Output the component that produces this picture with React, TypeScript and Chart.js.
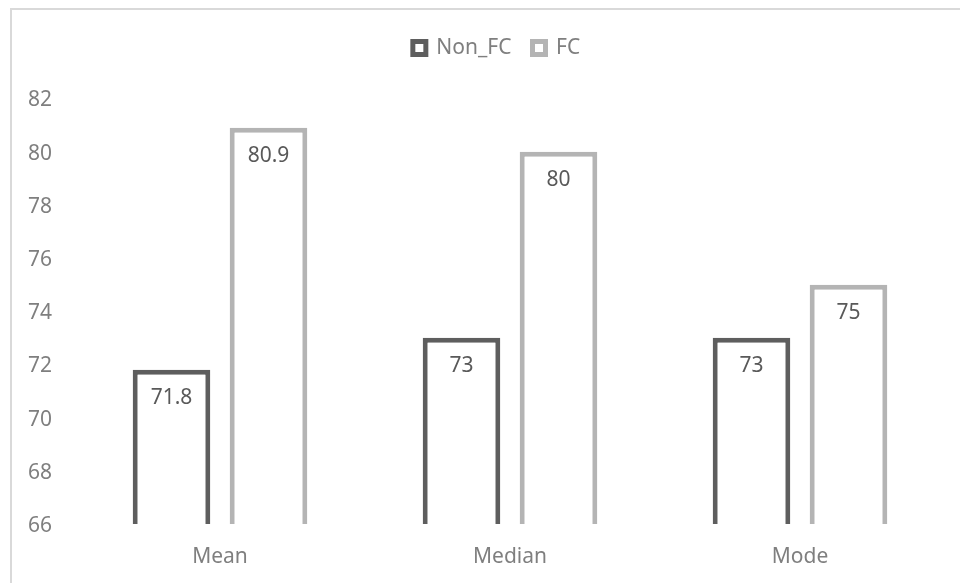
import React, { useEffect, useRef } from "react";
import { Chart, registerables } from "chart.js";

Chart.register(...registerables);

const categories = ["Mean", "Median", "Mode"];
const nonFcValues = [71.8, 73, 73];
const fcValues = [80.9, 80, 75];
const seriesNames = ["Non_FC", "FC"];
const yMin = 66;
const yMax = 82;
const yStep = 2;

const FONT = "'Noto Sans', 'DejaVu Sans', sans-serif";
const DARK = "#5e5e5e";
const LIGHT = "#b4b4b4";

const dataLabelPlugin = {
  id: "dataLabels",
  afterDatasetsDraw(chart: any) {
    const ctx = chart.ctx;
    ctx.save();
    ctx.font = `21px ${FONT}`;
    ctx.fillStyle = "#595959";
    ctx.textAlign = "center";
    ctx.textBaseline = "middle";
    chart.data.datasets.forEach((ds: any, i: number) => {
      const meta = chart.getDatasetMeta(i);
      meta.data.forEach((bar: any, j: number) => {
        const v = ds.data[j];
        ctx.fillText(String(v), bar.x, bar.y + 28);
      });
    });
    ctx.restore();
  },
};

// The original chart frame is wider than the visible crop, so its legend is
// centred a little right of the canvas centre.
const legendShiftPlugin = {
  id: "legendShift",
  afterLayout(chart: any) {
    if (chart.legend) {
      chart.legend.left += 48;
    }
  },
};

export default function App() {
  const ref = useRef<HTMLCanvasElement | null>(null);
  useEffect(() => {
    if (!ref.current) return;
    Chart.defaults.font.family = FONT;
    const chart = new Chart(ref.current, {
      type: "bar",
      data: {
        labels: categories,
        datasets: [
          {
            label: seriesNames[0],
            data: nonFcValues,
            backgroundColor: "#ffffff",
            borderColor: DARK,
            borderWidth: 5,
            borderSkipped: false,
            categoryPercentage: 0.669,
            barPercentage: 0.8,
          },
          {
            label: seriesNames[1],
            data: fcValues,
            backgroundColor: "#ffffff",
            borderColor: LIGHT,
            borderWidth: 5,
            borderSkipped: false,
            categoryPercentage: 0.669,
            barPercentage: 0.8,
          },
        ],
      },
      options: {
        responsive: false,
        animation: false,
        layout: { padding: { left: 0, right: 15, top: 16.5, bottom: 0 } },
        plugins: {
          tooltip: { enabled: false },
          legend: {
            position: "top",
            weight: 3000,
            labels: {
              boxWidth: 13,
              boxHeight: 13,
              padding: 21,
              color: "#7f7f7f",
              font: { size: 21, family: FONT },
            },
          },
          title: {
            display: true,
            text: "",
            padding: { top: 3, bottom: 3 },
            font: { size: 20 },
          },
        },
        scales: {
          x: {
            grid: { display: false, drawTicks: false },
            border: { display: false },
            ticks: {
              color: "#7f7f7f",
              padding: 20,
              font: { size: 21, family: FONT },
            },
            afterFit(scale: any) {
              scale.height = 59;
            },
          },
          y: {
            min: yMin,
            max: yMax,
            grid: { display: false, drawTicks: false },
            border: { display: false },
            ticks: {
              stepSize: yStep,
              color: "#7f7f7f",
              padding: 23,
              labelOffset: 2,
              font: { size: 21, family: FONT },
            },
            afterFit(scale: any) {
              scale.width = 75;
            },
          },
        },
      },
      plugins: [dataLabelPlugin, legendShiftPlugin],
    });
    return () => chart.destroy();
  }, []);

  return (
    <div
      style={{
        position: "fixed",
        left: 0,
        top: 0,
        width: 960,
        height: 583,
        background: "#ffffff",
        overflow: "hidden",
      }}
    >
      <div
        style={{
          position: "absolute",
          left: 10,
          top: 8,
          width: 1000,
          height: 700,
          borderTop: "2px solid #d9d9d9",
          borderLeft: "2px solid #d9d9d9",
        }}
      />
      <canvas
        ref={ref}
        width={960}
        height={583}
        style={{ position: "absolute", left: 0, top: 0, display: "block" }}
      />
    </div>
  );
}
